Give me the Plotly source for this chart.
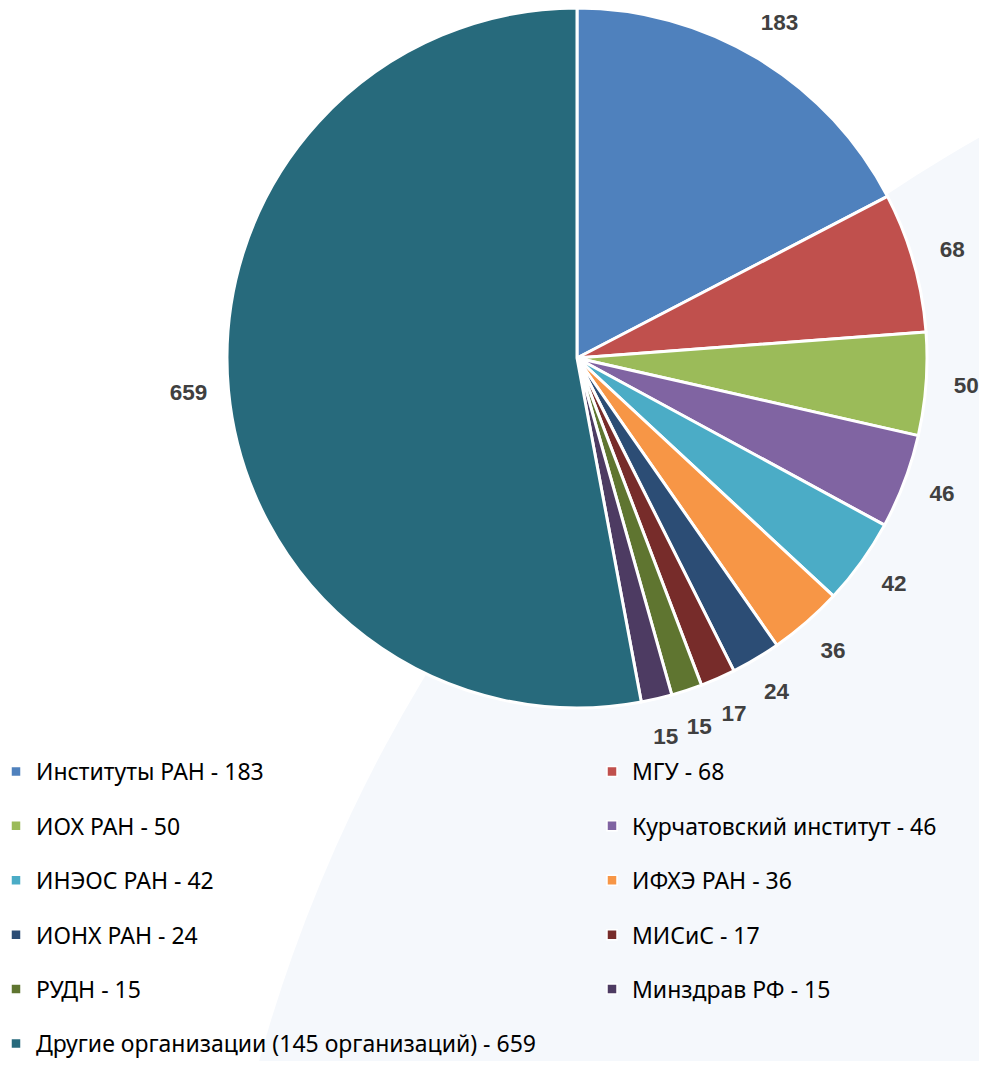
import math
import plotly.graph_objects as go

names = ["Институты РАН", "МГУ", "ИОХ РАН", "Курчатовский институт", "ИНЭОС РАН",
         "ИФХЭ РАН", "ИОНХ РАН", "МИСиС", "РУДН", "Минздрав РФ",
         "Другие организации (145 организаций)"]
# numbers printed on the chart / in the legend
values = [183, 68, 50, 46, 42, 36, 24, 17, 15, 15, 659]
# slice sizes as drawn in the picture (the last slice is drawn smaller than its label says)
slice_sizes = [183, 68, 50, 46, 42, 36, 24, 17, 15, 15, 558]
colors = ["#4F81BD", "#C0504D", "#9BBB59", "#8064A2", "#4BACC6", "#F79646",
          "#2C4D75", "#772C2A", "#5F7530", "#4D3B62", "#276A7C"]

labels = [f"{n} - {v}" for n, v in zip(names, values)]

W, H = 971, 1053
PIE_CX, PIE_CY, PIE_R = 569, 350, 350  # pie centre / radius in px
DOM_X = [(PIE_CX - PIE_R) / W, (PIE_CX + PIE_R) / W]
DOM_Y = [1 - (PIE_CY + PIE_R) / H, 1 - (PIE_CY - PIE_R) / H]
LABEL_R = 1.115  # label distance, in pie radii

fig = go.Figure()
fig.add_trace(go.Pie(
    labels=labels,
    values=slice_sizes,
    sort=False,
    direction="clockwise",
    rotation=0,
    marker=dict(colors=colors, line=dict(color="white", width=3)),
    textinfo="none",
    hovertemplate="%{label}<extra></extra>",
    showlegend=False,
    domain=dict(x=DOM_X, y=DOM_Y),
))

# value labels placed outside the slices at their mid angles (pie-radius units)
total = sum(slice_sizes)
lab_x, lab_y = [], []
acc = 0
for s in slice_sizes:
    ang = math.radians((acc + s / 2) / total * 360)
    lab_x.append(LABEL_R * math.sin(ang))
    lab_y.append(LABEL_R * math.cos(ang))
    acc += s
fig.add_trace(go.Scatter(
    x=lab_x, y=lab_y, mode="text",
    text=[str(v) for v in values],
    textfont=dict(family="Liberation Sans", size=22.5, color="#404040", weight="bold"),
    textposition="middle center", cliponaxis=False, showlegend=False, hoverinfo="skip",
))

# legend entries (two columns, row-major order as in the reference)
for i, (lab, col) in enumerate(zip(labels, colors)):
    fig.add_trace(go.Scatter(
        x=[None], y=[None], mode="markers", name=lab,
        marker=dict(symbol="square", size=10, color=col, line=dict(color="white", width=1.5)),
        legend="legend" if i % 2 == 0 else "legend2",
        legendgroup=f"g{i}", hoverinfo="skip",
    ))

# faint background circle
cx, cy, R = 1725, 1460, 1529
fig.add_shape(type="circle", xref="paper", yref="paper",
              x0=(cx - R) / W, x1=(cx + R) / W,
              y0=1 - (cy + R) / H, y1=1 - (cy - R) / H,
              fillcolor="#F5F8FC", line=dict(width=0), layer="below")

leg_common = dict(orientation="v", yanchor="top", xanchor="left",
                  font=dict(family="Noto Sans", size=23, color="#000000"),
                  tracegroupgap=21.5, bgcolor="rgba(0,0,0,0)", itemclick=False,
                  itemdoubleclick=False)

fig.update_layout(
    width=W, height=H,
    margin=dict(l=0, r=0, t=0, b=0, autoexpand=False),
    paper_bgcolor="white", plot_bgcolor="rgba(0,0,0,0)",
    # axes span the whole figure, scaled so that 1 unit = one pie radius around the pie centre
    xaxis=dict(visible=False, domain=[0, 1], fixedrange=True,
               range=[-PIE_CX / PIE_R, (W - PIE_CX) / PIE_R]),
    yaxis=dict(visible=False, domain=[0, 1], fixedrange=True,
               range=[(PIE_CY - H) / PIE_R, PIE_CY / PIE_R]),
    showlegend=True,
    legend=dict(x=-12 / W, y=1 - 742 / H, **leg_common),
    legend2=dict(x=584 / W, y=1 - 742 / H, **leg_common),
)

fig.write_html("out.html")
